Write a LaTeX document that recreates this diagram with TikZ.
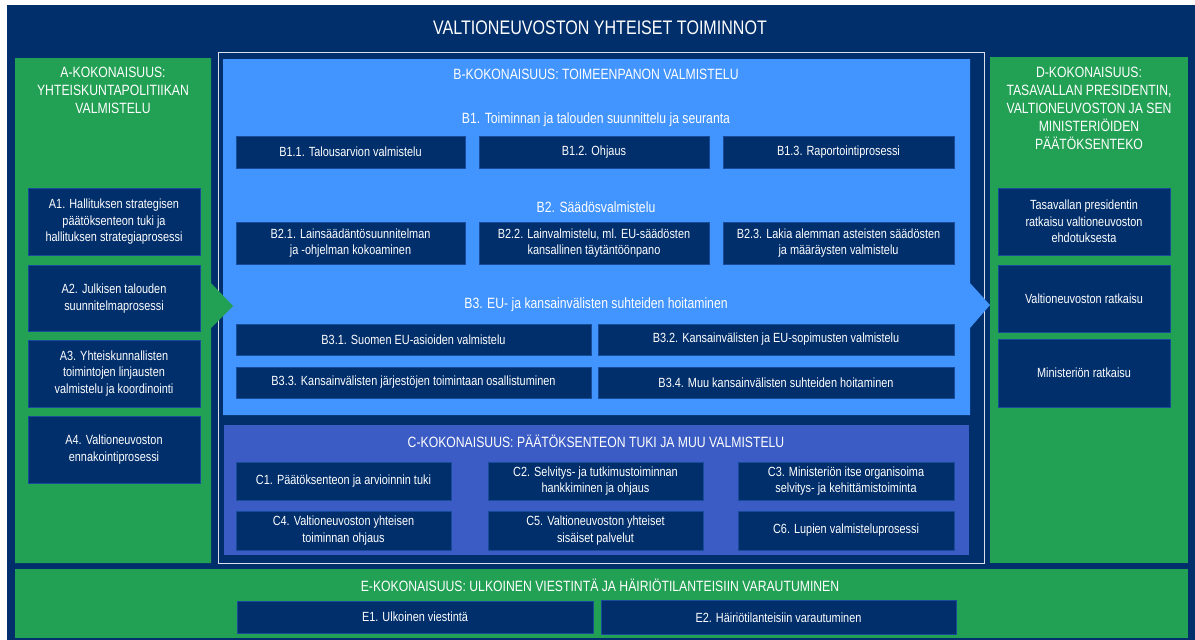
\documentclass[tikz,border=0pt]{standalone}
\usepackage{fontspec}
\setmainfont{Liberation Sans}[FakeStretch=0.82]
\usepackage{tikz}
\usetikzlibrary{positioning}

\definecolor{vnnavy}{RGB}{0,47,108}
\definecolor{vngreen}{RGB}{34,160,84}
\definecolor{vnblue}{RGB}{66,148,255}
\definecolor{vnviolet}{RGB}{58,92,196}
\definecolor{vnline}{RGB}{25,75,155}

\tikzset{
  box/.style={draw=vnline, line width=0.5pt, fill=vnnavy, text=white, align=center,
    inner sep=0pt, font=\fontsize{13.3}{16.5}\selectfont},
  headline/.style={text=white, align=center, inner sep=0pt, font=\fontsize{14.9}{18}\selectfont},
  subline/.style={text=white, align=center, inner sep=0pt, font=\fontsize{14.9}{18}\selectfont}
}

\begin{document}
\begin{tikzpicture}[x=1pt, y=-1pt]
    \useasboundingbox (0,0) rectangle (1195,640);
    \fill[white] (0,0) rectangle (1195,640);
    \fill[vnnavy] (7,5) rectangle (1195,640);
    \node[text=white, font=\fontsize{19.6}{22}\selectfont] (title) at (600,28) {VALTIONEUVOSTON YHTEISET TOIMINNOT};

    % ---------------- B-KOKONAISUUS ----------------
    \draw[white!85!vnnavy, line width=1pt] (218,52) rectangle (984,563);
    \fill[vnblue] (223,59) -- (970,59) -- (970,283) -- (990,305) -- (970,328) -- (970,415) -- (223,415) -- cycle;
    \node[headline] (headB) at (596,74) {B-KOKONAISUUS: TOIMEENPANON VALMISTELU};

    \node[subline] (headB1) at (596,120) {B1. Toiminnan ja talouden suunnittelu ja seuranta};
    \node[box, minimum width=229pt, minimum height=32pt] (b11) at (350.5,152) {B1.1. Talousarvion valmistelu};
    \node[box, minimum width=230pt, minimum height=32pt] (b12) at (594,152) {B1.2. Ohjaus};
    \node[box, minimum width=231pt, minimum height=32pt] (b13) at (838.5,152) {B1.3. Raportointiprosessi};

    \node[subline] (headB2) at (596,207) {B2. Säädösvalmistelu};
    \node[box, minimum width=229pt, minimum height=42pt] (b21) at (350.5,243) {B2.1. Lainsäädäntösuunnitelman\\ja -ohjelman kokoaminen};
    \node[box, minimum width=230pt, minimum height=42pt] (b22) at (594,243) {B2.2. Lainvalmistelu, ml. EU-säädösten\\kansallinen täytäntöönpano};
    \node[box, minimum width=231pt, minimum height=42pt] (b23) at (838.5,243) {B2.3. Lakia alemman asteisten säädösten\\ja määräysten valmistelu};

    \node[subline] (headB3) at (596,305) {B3. EU- ja kansainvälisten suhteiden hoitaminen};
    \node[box, minimum width=355pt, minimum height=31pt] (b31) at (413.5,339.5) {B3.1. Suomen EU-asioiden valmistelu};
    \node[box, minimum width=356pt, minimum height=31pt] (b32) at (776,339.5) {B3.2. Kansainvälisten ja EU-sopimusten valmistelu};
    \node[box, minimum width=355pt, minimum height=31pt] (b33) at (413.5,382.5) {B3.3. Kansainvälisten järjestöjen toimintaan osallistuminen};
    \node[box, minimum width=356pt, minimum height=31pt] (b34) at (776,382.5) {B3.4. Muu kansainvälisten suhteiden hoitaminen};

    % ---------------- C-KOKONAISUUS ----------------
    \fill[vnviolet] (224,425) rectangle (969,555);
    \node[headline] (headC) at (596,441) {C-KOKONAISUUS: PÄÄTÖKSENTEON TUKI JA MUU VALMISTELU};
    \node[box, minimum width=215pt, minimum height=38pt] (c1) at (343.5,481) {C1. Päätöksenteon ja arvioinnin tuki};
    \node[box, minimum width=215pt, minimum height=38pt] (c2) at (595.5,481) {C2. Selvitys- ja tutkimustoiminnan\\hankkiminen ja ohjaus};
    \node[box, minimum width=216pt, minimum height=38pt] (c3) at (846,481) {C3. Ministeriön itse organisoima\\selvitys- ja kehittämistoiminta};
    \node[box, minimum width=215pt, minimum height=39pt] (c4) at (343.5,530.5) {C4. Valtioneuvoston yhteisen\\toiminnan ohjaus};
    \node[box, minimum width=215pt, minimum height=39pt] (c5) at (595.5,530.5) {C5. Valtioneuvoston yhteiset\\sisäiset palvelut};
    \node[box, minimum width=216pt, minimum height=39pt] (c6) at (846,530.5) {C6. Lupien valmisteluprosessi};

    % ---------------- A-KOKONAISUUS ----------------
    \fill[vngreen] (15,58) -- (211,58) -- (211,283) -- (233,306) -- (211,328) -- (211,563) -- (15,563) -- cycle;
    \node[headline] (headA) at (113,90) {A-KOKONAISUUS:\\YHTEISKUNTAPOLITIIKAN\\VALMISTELU};
    \node[box, minimum width=172pt, minimum height=67pt] (a1) at (114,222) {A1. Hallituksen strategisen\\päätöksenteon tuki ja\\hallituksen strategiaprosessi};
    \node[box, minimum width=172pt, minimum height=66pt] (a2) at (114,298.5) {A2. Julkisen talouden\\suunnitelmaprosessi};
    \node[box, minimum width=172pt, minimum height=67pt] (a3) at (114,373.5) {A3. Yhteiskunnallisten\\toimintojen linjausten\\valmistelu ja koordinointi};
    \node[box, minimum width=172pt, minimum height=67pt] (a4) at (114,449.5) {A4. Valtioneuvoston\\ennakointiprosessi};

    % ---------------- D-KOKONAISUUS ----------------
    \fill[vngreen] (990,57) rectangle (1188,563);
    \node[headline] (headD) at (1089,108) {D-KOKONAISUUS:\\TASAVALLAN PRESIDENTIN,\\VALTIONEUVOSTON JA SEN\\MINISTERIÖIDEN\\PÄÄTÖKSENTEKO};
    \node[box, minimum width=172pt, minimum height=67pt] (d1) at (1084,221.5) {Tasavallan presidentin\\ratkaisu valtioneuvoston\\ehdotuksesta};
    \node[box, minimum width=172pt, minimum height=67pt] (d2) at (1084,298.5) {Valtioneuvoston ratkaisu};
    \node[box, minimum width=172pt, minimum height=68pt] (d3) at (1084,373) {Ministeriön ratkaisu};

    % ---------------- E-KOKONAISUUS ----------------
    \fill[vngreen] (15,569) rectangle (1188,638);
    \node[headline] (headE) at (600,585) {E-KOKONAISUUS: ULKOINEN VIESTINTÄ JA HÄIRIÖTILANTEISIIN VARAUTUMINEN};
    \node[box, minimum width=356pt, minimum height=32pt] (e1) at (415,617) {E1. Ulkoinen viestintä};
    \node[box, minimum width=355pt, minimum height=34pt] (e2) at (778.5,617.5) {E2. Häiriötilanteisiin varautuminen};
\end{tikzpicture}
\end{document}
